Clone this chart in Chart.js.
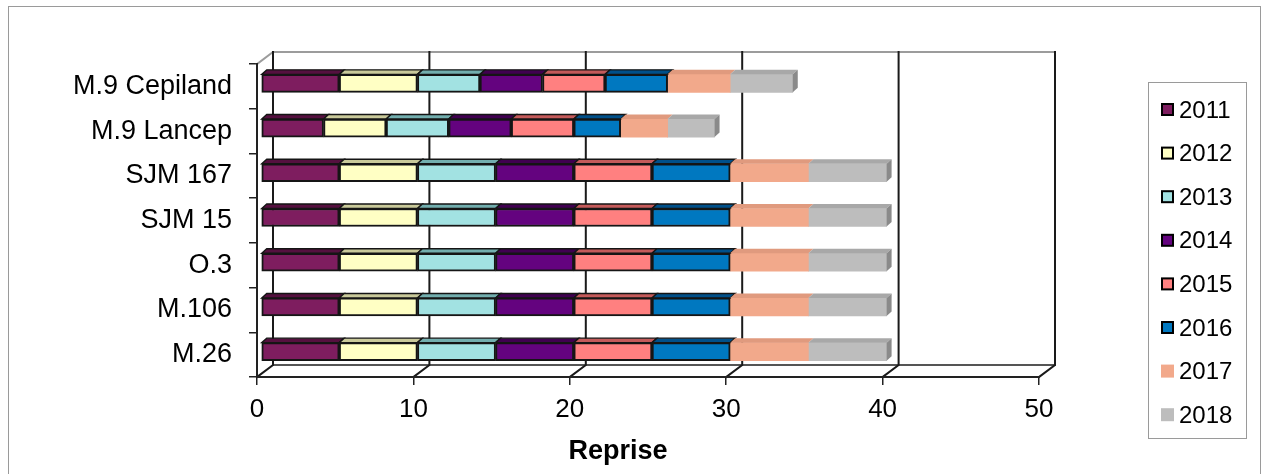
<!DOCTYPE html>
<html>
<head>
<meta charset="utf-8">
<script src="https://cdn.jsdelivr.net/npm/chart.js@4.4.1/dist/chart.umd.min.js"></script>
<style>
  html, body { margin: 0; padding: 0; background: #fff; }
  #wrap { position: relative; width: 1262px; height: 474px; overflow: hidden; }
  #frame { position: absolute; left: 8px; top: 6px; width: 1253px; height: 520px; border: 1px solid #9a9a9a; box-sizing: border-box; }
  canvas { position: absolute; left: 0; top: 0; }
</style>
</head>
<body>
<div id="wrap">
  <div id="frame"></div>
  <canvas id="chart" width="1262" height="474"></canvas>
</div>
<script>
// ---- data (top row first) ----
const rootstocks = ['M.9 Cepiland', 'M.9 Lancep', 'SJM 167', 'SJM 15', 'O.3', 'M.106', 'M.26'];
const years = ['2011', '2012', '2013', '2014', '2015', '2016', '2017', '2018'];
const v2011 = [5, 4, 5, 5, 5, 5, 5];
const v2012 = [5, 4, 5, 5, 5, 5, 5];
const v2013 = [4, 4, 5, 5, 5, 5, 5];
const v2014 = [4, 4, 5, 5, 5, 5, 5];
const v2015 = [4, 4, 5, 5, 5, 5, 5];
const v2016 = [4, 3, 5, 5, 5, 5, 5];
const v2017 = [4, 3, 5, 5, 5, 5, 5];
const v2018 = [4, 3, 5, 5, 5, 5, 5];
const xTicks = [0, 10, 20, 30, 40, 50];
const axisTitle = 'Reprise';

// ---- styles ----
const faceColors = ['#7e1d5f', '#ffffc4', '#a2e2e2', '#64037f', '#ff8080', '#0078c0', '#f2a98b', '#bdbdbd'];
const topColors  = ['#55103f', '#c9c99a', '#72aeae', '#400050', '#c45a5a', '#00508a', '#e09a7e', '#a8a8a8'];
const outlined   = [true, true, true, true, true, true, false, false];
const seriesValues = [v2011, v2012, v2013, v2014, v2015, v2016, v2017, v2018];

const WALL = { dx: 16, dy: -12 };   // depth of the walls
const BAR  = { dx: 5,  dy: -4.5 };  // depth of a bar
const SHIFT = { x: 4, y: -3 };      // bars sit a bit inside the box
const FONT = "'Liberation Sans', Arial, sans-serif";

const datasets = years.map((yr, i) => ({
  label: yr,
  data: seriesValues[i],
  backgroundColor: faceColors[i],
  borderColor: '#151515',
  borderWidth: outlined[i] ? 2 : 0,
  borderSkipped: false,
  topColor: topColors[i],
  barThickness: 18
}));

// back wall, left wall, floor, gridlines
const box3d = {
  id: 'box3d',
  beforeDatasetsDraw(chart) {
    const { ctx, chartArea: { left: L, right: R, top: T, bottom: B }, scales: { x } } = chart;
    const bx = WALL.dx, by = WALL.dy;
    ctx.save();
    ctx.lineCap = 'square';
    // back wall top edge + left wall top diagonal
    ctx.strokeStyle = '#9c9c9c'; ctx.lineWidth = 2;
    ctx.beginPath();
    ctx.moveTo(L, T); ctx.lineTo(L + bx, T + by); ctx.lineTo(R + bx, T + by);
    ctx.stroke();
    // floor back edge
    ctx.strokeStyle = '#555';
    ctx.beginPath();
    ctx.moveTo(L + bx, B + by); ctx.lineTo(R + bx, B + by);
    ctx.stroke();
    // gridlines on back wall and diagonals on the floor
    ctx.strokeStyle = '#1a1a1a'; ctx.lineWidth = 2;
    xTicks.forEach(v => {
      const px = x.getPixelForValue(v);
      ctx.beginPath();
      ctx.moveTo(px + bx, T + by); ctx.lineTo(px + bx, B + by); ctx.lineTo(px, B);
      ctx.stroke();
    });
    // front axis lines
    ctx.strokeStyle = '#222'; ctx.lineWidth = 2;
    ctx.beginPath();
    ctx.moveTo(L, T); ctx.lineTo(L, B); ctx.lineTo(R, B);
    ctx.stroke();
    ctx.restore();

    ctx.save();
    ctx.translate(SHIFT.x, SHIFT.y);
  },
  afterDatasetsDraw(chart) {
    const ctx = chart.ctx;
    const n = chart.data.datasets.length;
    chart.data.datasets.forEach((ds, di) => {
      const meta = chart.getDatasetMeta(di);
      meta.data.forEach(el => {
        const { x, y, base, height } = el.getProps(['x', 'y', 'base', 'height'], true);
        const top = y - height / 2, bot = y + height / 2;
        ctx.beginPath();
        ctx.moveTo(base, top); ctx.lineTo(x, top);
        ctx.lineTo(x + BAR.dx, top + BAR.dy); ctx.lineTo(base + BAR.dx, top + BAR.dy);
        ctx.closePath();
        ctx.fillStyle = ds.topColor; ctx.fill();
        if (ds.borderWidth) { ctx.strokeStyle = ds.borderColor; ctx.lineWidth = 1.4; ctx.stroke(); }
        if (di === n - 1) {
          ctx.beginPath();
          ctx.moveTo(x, top); ctx.lineTo(x + BAR.dx, top + BAR.dy);
          ctx.lineTo(x + BAR.dx, bot + BAR.dy); ctx.lineTo(x, bot);
          ctx.closePath();
          ctx.fillStyle = '#8a8a8a'; ctx.fill();
        }
      });
    });
    ctx.restore();
  }
};

// boxed legend on the right and the axis title
const legendBox = {
  id: 'legendBox',
  afterDraw(chart) {
    const ctx = chart.ctx;
    ctx.save();
    ctx.strokeStyle = '#9a9a9a'; ctx.lineWidth = 1;
    ctx.strokeRect(1148.5, 82.5, 98, 356);
    ctx.font = '24px ' + FONT;
    ctx.textBaseline = 'middle';
    ctx.textAlign = 'left';
    chart.data.datasets.forEach((ds, i) => {
      const cy = 110 + i * 43.6;
      ctx.fillStyle = ds.backgroundColor;
      if (ds.borderWidth) {
        ctx.fillRect(1162, cy - 6, 11, 11);
        ctx.strokeStyle = '#000'; ctx.lineWidth = 2;
        ctx.strokeRect(1162, cy - 6, 11, 11);
      } else {
        ctx.fillRect(1161, cy - 7, 13, 13);
      }
      ctx.fillStyle = '#000';
      ctx.fillText(ds.label, 1179, cy + 1);
    });
    ctx.font = 'bold 27px ' + FONT;
    ctx.textAlign = 'center';
    ctx.fillText(axisTitle, 618, 452);
    ctx.restore();
  }
};

new Chart(document.getElementById('chart'), {
  type: 'bar',
  data: { labels: rootstocks, datasets },
  options: {
    indexAxis: 'y',
    responsive: false,
    animation: false,
    devicePixelRatio: 1,
    layout: { padding: { left: 0, top: 64, right: 223, bottom: 0 } },
    plugins: { legend: { display: false }, tooltip: { enabled: false } },
    scales: {
      x: {
        stacked: true,
        min: xTicks[0], max: xTicks[xTicks.length - 1],
        ticks: { stepSize: 10, color: '#000', font: { family: FONT, size: 26 }, padding: 9 },
        grid: { drawOnChartArea: false, drawTicks: true, tickLength: 8, color: '#222', lineWidth: 1.5 },
        border: { display: false },
        afterFit(s) { s.height = 97; }
      },
      y: {
        stacked: true,
        ticks: { color: '#000', font: { family: FONT, size: 27 }, padding: 17 },
        grid: { drawOnChartArea: false, offset: true, drawTicks: true, tickLength: 8, color: '#222', lineWidth: 1.5 },
        border: { display: false },
        afterFit(s) { s.width = 257; }
      }
    }
  },
  plugins: [box3d, legendBox]
});
</script>
</body>
</html>
